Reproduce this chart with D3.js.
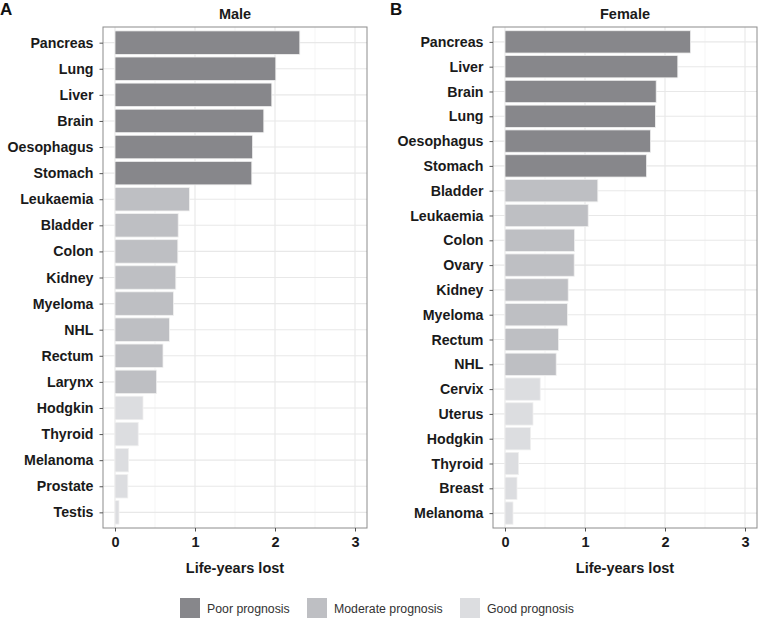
<!DOCTYPE html>
<html><head><meta charset="utf-8">
<script src="https://cdn.jsdelivr.net/npm/d3@7"></script>
<style>body{margin:0;background:#fff}svg{display:block;font-family:"Liberation Sans",Arial,sans-serif}</style>
</head><body><svg id="c" width="759" height="621"></svg>
<script>
const maleCategories = ["Pancreas","Lung","Liver","Brain","Oesophagus","Stomach","Leukaemia","Bladder","Colon","Kidney","Myeloma","NHL","Rectum","Larynx","Hodgkin","Thyroid","Melanoma","Prostate","Testis"];
const maleValues = [2.31,2.01,1.96,1.86,1.72,1.71,0.93,0.79,0.785,0.76,0.73,0.68,0.60,0.52,0.35,0.29,0.17,0.16,0.05];
const maleGroups = ["Poor","Poor","Poor","Poor","Poor","Poor","Moderate","Moderate","Moderate","Moderate","Moderate","Moderate","Moderate","Moderate","Good","Good","Good","Good","Good"];
const femaleCategories = ["Pancreas","Liver","Brain","Lung","Oesophagus","Stomach","Bladder","Leukaemia","Colon","Ovary","Kidney","Myeloma","Rectum","NHL","Cervix","Uterus","Hodgkin","Thyroid","Breast","Melanoma"];
const femaleValues = [2.32,2.16,1.89,1.88,1.82,1.77,1.16,1.04,0.87,0.865,0.79,0.78,0.67,0.64,0.44,0.35,0.32,0.17,0.15,0.10];
const femaleGroups = ["Poor","Poor","Poor","Poor","Poor","Poor","Moderate","Moderate","Moderate","Moderate","Moderate","Moderate","Moderate","Moderate","Good","Good","Good","Good","Good","Good"];
const xTicks = [0,1,2,3];
const xMinorTicks = [0.5,1.5,2.5];
const legendGroups = ["Poor","Moderate","Good"];
const legendLabels = ["Poor prognosis","Moderate prognosis","Good prognosis"];

const color = d3.scaleOrdinal().domain(legendGroups).range(["#87878b","#bebfc3","#dcdde0"]);
const svg = d3.select("#c");

function panel(cfg){
  const {cats, vals, groups, x0, x1, y0, y1, title, tag, tagX} = cfg;
  const x = d3.scaleLinear().domain([-0.15,3.15]).range([x0,x1]);
  const y = d3.scalePoint().domain(cats).range([y0,y1]).padding(0.6);
  const bh = y.step()*0.9;
  const g = svg.append("g");
  // grid
  g.selectAll(".mn").data(xMinorTicks).join("line")
    .attr("x1",d=>x(d)).attr("x2",d=>x(d)).attr("y1",y0).attr("y2",y1)
    .attr("stroke","#f2f2f2").attr("stroke-width",0.8);
  g.selectAll(".mj").data(xTicks).join("line")
    .attr("x1",d=>x(d)).attr("x2",d=>x(d)).attr("y1",y0).attr("y2",y1)
    .attr("stroke","#e8e8e8").attr("stroke-width",1.1);
  g.selectAll(".hy").data(cats).join("line")
    .attr("x1",x0).attr("x2",x1).attr("y1",d=>y(d)).attr("y2",d=>y(d))
    .attr("stroke","#e8e8e8").attr("stroke-width",1.1);
  // bars
  g.selectAll(".bar").data(cats).join("rect")
    .attr("x",x(0)).attr("y",d=>y(d)-bh/2)
    .attr("width",(d,i)=>x(vals[i])-x(0)).attr("height",bh)
    .attr("fill",(d,i)=>color(groups[i]))
    .attr("stroke","#f0f0f0").attr("stroke-width",0.8);
  // border
  g.append("rect").attr("x",x0).attr("y",y0).attr("width",x1-x0).attr("height",y1-y0)
    .attr("fill","none").attr("stroke","#8c8c8c").attr("stroke-width",1);
  // axes
  const ax = g.append("g").attr("transform",`translate(0,${y1})`)
    .call(d3.axisBottom(x).tickValues(xTicks).tickFormat(d3.format("d")).tickSize(3.5).tickPadding(5));
  ax.select(".domain").remove();
  ax.selectAll("line").attr("stroke","#555");
  ax.selectAll("text").attr("font-size","14.5px").attr("font-weight","bold").attr("fill","#1a1a1a");
  const ay = g.append("g").attr("transform",`translate(${x0},0)`)
    .call(d3.axisLeft(y).tickSize(3.5).tickPadding(6));
  ay.select(".domain").remove();
  ay.selectAll("line").attr("stroke","#555");
  ay.selectAll("text").attr("font-size","14.2px").attr("font-weight","bold").attr("fill","#1a1a1a");
  // titles
  g.append("text").attr("x",(x0+x1)/2).attr("y",19).attr("text-anchor","middle")
    .attr("font-size","14.5px").attr("font-weight","bold").attr("fill","#1a1a1a").text(title);
  g.append("text").attr("x",(x0+x1)/2).attr("y",573).attr("text-anchor","middle")
    .attr("font-size","14.5px").attr("font-weight","bold").attr("fill","#1a1a1a").text("Life-years lost");
  g.append("text").attr("x",tagX).attr("y",15).attr("font-size","17px").attr("font-weight","bold")
    .attr("fill","#111").text(tag);
}

panel({cats:maleCategories, vals:maleValues, groups:maleGroups, x0:103, x1:367, y0:27, y1:528, title:"Male", tag:"A", tagX:0});
panel({cats:femaleCategories, vals:femaleValues, groups:femaleGroups, x0:493, x1:757, y0:27, y1:528, title:"Female", tag:"B", tagX:390});

// legend
const legX = [180, 307, 460];
const lg = svg.append("g");
legendGroups.forEach((k,i)=>{
  lg.append("rect").attr("x",legX[i]).attr("y",598).attr("width",20).attr("height",20).attr("fill",color(k));
  lg.append("text").attr("x",legX[i]+27).attr("y",612.5).attr("font-size","12.3px").attr("fill","#333").text(legendLabels[i]);
});
</script></body></html>
